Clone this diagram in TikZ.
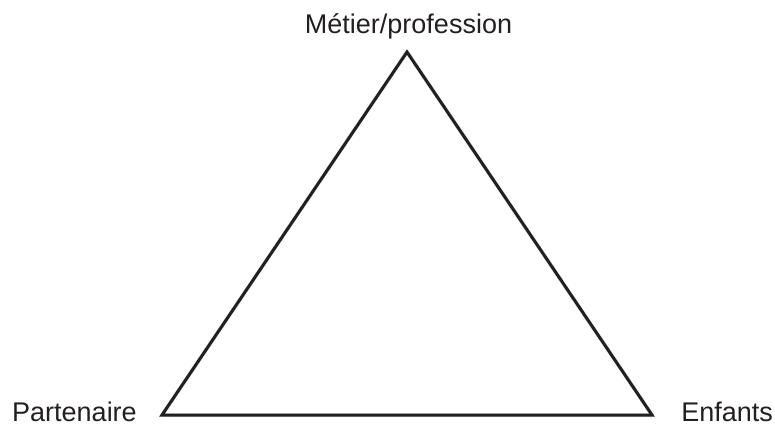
\documentclass[tikz,border=0pt]{standalone}
\usepackage{fontspec}
\setmainfont{Liberation Sans}
\definecolor{ink}{HTML}{231F20}
\begin{document}
\begin{tikzpicture}[x=1pt,y=-1pt,
  lbl/.style={inner sep=0pt,text=ink,font=\fontsize{27}{32}\selectfont},
  edge/.style={line width=3pt,line join=miter,ink}]
\useasboundingbox (0,0) rectangle (775,425);
\coordinate (top) at (407,52);
\coordinate (bl) at (162,415);
\coordinate (br) at (652,415);
\foreach \d/\o in {3/0.05,5/0.04,7/0.03}{
  \draw[line width=4pt,line join=round,opacity=\o,shift={(\d,\d)}] (top) -- (bl) -- (br) -- cycle;
}
\draw[edge] (top) -- (bl) -- (br) -- cycle;
\node[lbl,anchor=base] (metier) at (408.5,34) {Métier/profession};
\node[lbl,anchor=base west] (part) at (12,421.5) {Partenaire};
\node[lbl,anchor=base east] (enf) at (773,421.5) {Enfants};
\end{tikzpicture}
\end{document}
